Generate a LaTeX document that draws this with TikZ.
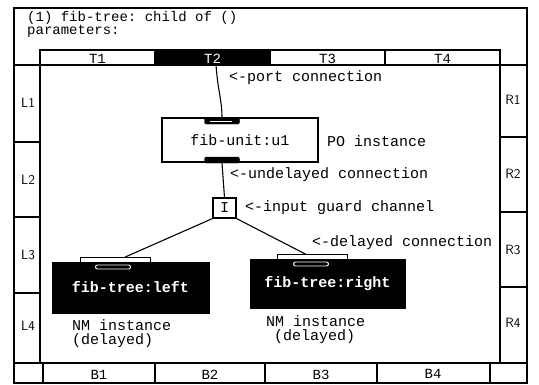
\documentclass[tikz,border=0pt]{standalone}
\usepackage{fontspec}
\setmainfont{Liberation Sans}
\setmonofont{Liberation Mono}
\begin{document}
\begin{tikzpicture}[x=1pt,y=-1pt,
  frame/.style={draw=black,line width=1.8pt},
  thin/.style={draw=black,line width=1.3pt},
  mono/.style={font=\fontsize{15}{15}\selectfont\ttfamily,inner sep=0pt},
  lbl/.style={mono,anchor=west},
  hdr/.style={font=\fontsize{14}{14}\selectfont\ttfamily,inner sep=0pt,anchor=west},
  side/.style={font=\fontsize{13.5}{13.5}\selectfont\sffamily,inner sep=0pt},
  tcell/.style={draw=black,line width=1.3pt,minimum width=115pt,minimum height=15pt,inner sep=0pt,outer sep=0pt},
  bcell/.style={font=\fontsize{14}{14}\selectfont\ttfamily,inner sep=0pt},
  nmbox/.style={fill=black,draw=black,text=white,minimum width=157pt,minimum height=51pt,inner sep=0pt,font=\fontsize{15}{15}\selectfont\ttfamily\bfseries},
  portw/.style={fill=white,draw=black,line width=0.8pt,minimum width=70pt,minimum height=5pt,inner sep=0pt},
  portbar/.style={draw=white,line width=0.9pt,rounded corners=2pt,minimum width=35pt,minimum height=4pt,inner sep=0pt},
  portb/.style={fill=black,draw=black,rounded corners=1.5pt,minimum width=35pt,minimum height=6pt,inner sep=0pt}
]
\useasboundingbox (0,0) rectangle (539,384);

% outer frame
\draw[frame] (14,8) rectangle (527,383);
\draw[frame] (14,65) -- (527,65);
\draw[frame] (14,363) -- (527,363);
\draw[frame] (40,65) -- (40,363);
\draw[frame] (500,65) -- (500,363);

% title
\node[hdr] (title) at (27,18) {(1) fib-tree: child of ()};
\node[hdr] (params) at (27,31) {parameters:};

% top row
\node[tcell] (t1) at (97.5,57.5) {};
\node[tcell,fill=black] (t2) at (212.5,57.5) {};
\node[tcell] (t3) at (327.5,57.5) {};
\node[tcell] (t4) at (442.5,57.5) {};
\node[bcell] (t1l) at (97.5,59) {T1};
\node[bcell,text=white] (t2l) at (212.5,59) {T2};
\node[bcell] (t3l) at (327.5,59) {T3};
\node[bcell] (t4l) at (442.5,59) {T4};

% left column
\draw[thin] (14,142) -- (40,142);
\draw[thin] (14,217) -- (40,217);
\draw[thin] (14,293) -- (40,293);
\node[side] (l1) at (28,103) {L1};
\node[side] (l2) at (28,180) {L2};
\node[side] (l3) at (28,255) {L3};
\node[side] (l4) at (28,326) {L4};

% right column
\draw[thin] (500,137) -- (527,137);
\draw[thin] (500,212) -- (527,212);
\draw[thin] (500,287) -- (527,287);
\node[side] (r1) at (513,100) {R1};
\node[side] (r2) at (513,174) {R2};
\node[side] (r3) at (513,250) {R3};
\node[side] (r4) at (513,323) {R4};

% bottom row
\draw[thin] (43,363) -- (43,383);
\draw[thin] (155,363) -- (155,383);
\draw[thin] (265,363) -- (265,383);
\draw[thin] (377,363) -- (377,383);
\draw[thin] (490,363) -- (490,383);
\node[bcell] (b1) at (99,375) {B1};
\node[bcell] (b2) at (210,375) {B2};
\node[bcell] (b3) at (321,375) {B3};
\node[bcell] (b4) at (433,374) {B4};

% PO instance
\node[draw=black,line width=1.3pt,minimum width=156pt,minimum height=44pt,inner sep=0pt,font=\fontsize{15}{15}\selectfont\ttfamily] (u1) at (240,140) {fib-unit:u1};
\node[portb] (pt) at (222,121) {};
\draw[white,line width=0.8pt] (210,121) -- (232,121);
\node[portb] (pb) at (222,160) {};
\node[lbl] (poi) at (327,141) {PO instance};

% input guard
\node[draw=black,line width=1.2pt,minimum width=23pt,minimum height=20pt,inner sep=0pt,font=\fontsize{15}{15}\selectfont\ttfamily] (ig) at (224.5,208) {I};

% NM instances
\node[nmbox] (left) at (130.5,287.5) {fib-tree:left};
\node[portw] (lp) at (115,260) {};
\node[portbar] (lpb) at (113,267) {};
\node[nmbox,minimum width=155pt,minimum height=49pt] (right) at (327.5,283.5) {fib-tree:right};
\node[portw] (rp) at (312.5,257) {};
\node[portbar] (rpb) at (311,264) {};

% connectors
\draw[line width=1.1pt] ([xshift=3.5pt]t2.south) .. controls (218,92) and (222,100) .. (pt.north);
\draw[line width=1.1pt] (pb.south) -- (ig.north);
\draw[line width=1.1pt] (ig.south west) -- ([xshift=10pt]lp.north);
\draw[line width=1.1pt] (ig.south east) -- ([xshift=-7pt]rp.north);

% labels
\node[lbl] (lab1) at (229,78) {<-port connection};
\node[lbl] (lab2) at (230,175) {<-undelayed connection};
\node[lbl] (lab3) at (245,208) {<-input guard channel};
\node[lbl] (lab4) at (312,243) {<-delayed connection};
\node[lbl] (nm1) at (72,325) {NM instance};
\node[lbl] (nm1b) at (72,341) {(delayed)};
\node[lbl] (nm2) at (266,321) {NM instance};
\node[lbl] (nm2b) at (274,337) {(delayed)};
\end{tikzpicture}
\end{document}
